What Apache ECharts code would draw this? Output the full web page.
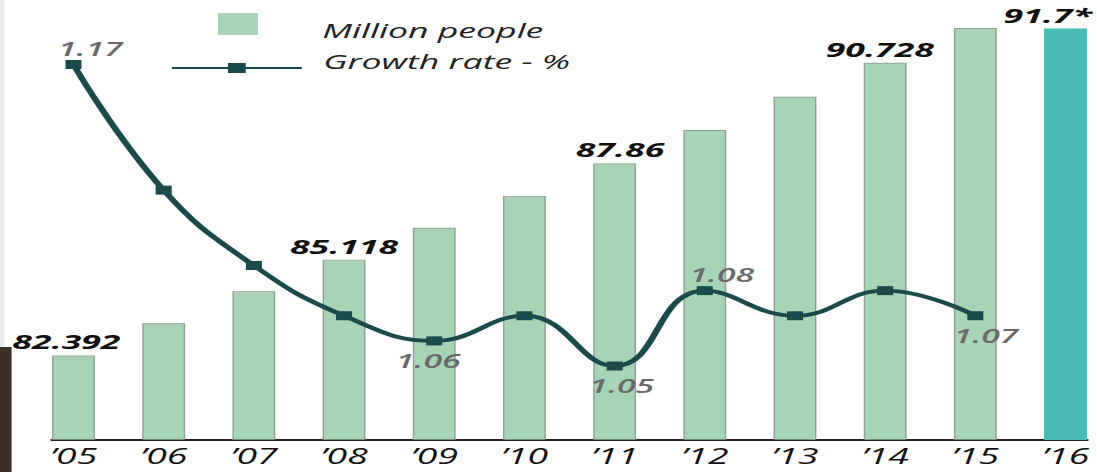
<!DOCTYPE html>
<html>
<head>
<meta charset="utf-8">
<script src="https://cdn.jsdelivr.net/npm/echarts@6/dist/echarts.min.js"></script>
<style>
  html, body { margin: 0; padding: 0; background: #fff; overflow: hidden; }
  #wrap { width: 1097px; height: 472px; overflow: hidden; position: relative; }
  /* the chart is laid out narrow and widened horizontally */
  #chart { width: 616px; height: 472px; transform: scaleX(1.78084); transform-origin: 0 0; }
</style>
</head>
<body>
<div id="wrap"><div id="chart"></div></div>
<script>
// Population (million people) and annual growth rate (%), 2005-2016
const years = ['\u201905', '\u201906', '\u201907', '\u201908', '\u201909', '\u201910',
               '\u201911', '\u201912', '\u201913', '\u201914', '\u201915', '\u201916'];
const population = [82.392, 83.311, 84.219, 85.118, 86.025, 86.933,
                    87.86, 88.809, 89.76, 90.728, 91.713, 91.7];
const growthRate = [1.17, 1.12, 1.09, 1.07, 1.06, 1.07,
                    1.05, 1.08, 1.07, 1.08, 1.07];
const populationLabelled = ['\u201905', '\u201908', '\u201911', '\u201914', '\u201916'];
const growthLabelled = ['\u201905', '\u201909', '\u201911', '\u201912', '\u201915'];
const estimatedYears = ['\u201916'];

// label placement for the value labels
const growthLabelSide = { '\u201905': 'top', '\u201909': 'bottom', '\u201911': 'bottom', '\u201912': 'top', '\u201915': 'bottom' };
const growthLabelShift = { '\u201905': 9.5, '\u201909': -3.4, '\u201911': 4, '\u201912': 9.5, '\u201915': 6 };
const popLabelShift = { '\u201905': -4, '\u201911': 3, '\u201914': -3, '\u201916': -10 };

const FONT = '"Open Sans", "Noto Sans", sans-serif';
const LINE_COLOR = '#1b4a4b';
const BAR_COLOR = '#a8d4b6';
const BAR_EST_COLOR = '#46bcb4';

const barData = population.map((v, i) => ({
  value: [i, v],
  label: {
    show: populationLabelled.includes(years[i]),
    offset: [popLabelShift[years[i]] || 0, 0]
  },
  itemStyle: estimatedYears.includes(years[i]) ? { color: BAR_EST_COLOR, borderColor: BAR_EST_COLOR } : undefined
}));

const lineData = growthRate.map((v, i) => {
  const side = growthLabelSide[years[i]];
  return {
    value: [i, v],
    label: {
      show: growthLabelled.includes(years[i]),
      position: side || 'top',
      distance: side === 'bottom' ? 6 : 2,
      offset: [growthLabelShift[years[i]] || 0, 0]
    }
  };
});

const legendText = { fontFamily: FONT, fontStyle: 'italic', fontSize: 20, color: '#222' };

const chart = echarts.init(document.getElementById('chart'), null, { renderer: 'svg' });

chart.setOption({
  animation: false,
  backgroundColor: '#fff',
  graphic: [
    { type: 'rect', left: 0, top: 0, shape: { width: 2.6, height: 347 }, style: { fill: '#ececec' }, silent: true },
    { type: 'rect', left: 0, top: 347, shape: { width: 6.5, height: 125 }, style: { fill: '#3a3027' }, silent: true }
  ],
  legend: [
    {
      data: ['Million people'],
      left: 117.4, top: 8,
      orient: 'vertical',
      icon: 'rect',
      itemWidth: 22.5, itemHeight: 22,
      itemStyle: { borderWidth: 0 },
      formatter: '{t|{name}}',
      textStyle: Object.assign({}, legendText, {
        rich: { t: Object.assign({}, legendText, { padding: [12, 0, 0, 31] }) }
      })
    },
    {
      data: ['Growth rate - %'],
      left: 90.5, top: 46,
      orient: 'vertical',
      itemWidth: 73, itemHeight: 12.5,
      formatter: '{t|{name}}',
      textStyle: Object.assign({}, legendText, {
        rich: { t: Object.assign({}, legendText, { padding: [0, 0, 14, 7] }) }
      })
    }
  ],
  grid: { left: 29.2, right: 5.6, top: 18, bottom: 32.5, containLabel: false },
  xAxis: {
    type: 'value',
    min: -0.2384, max: 11.2384,
    splitLine: { show: false },
    axisTick: { show: false },
    axisLine: { show: true, onZero: false, lineStyle: { color: '#222', width: 2 } },
    axisLabel: {
      customValues: years.map((_, i) => i),
      formatter: v => years[Math.round(v)] || '',
      fontFamily: FONT, fontStyle: 'italic', fontSize: 21, color: '#111',
      margin: 6
    }
  },
  yAxis: [
    { type: 'value', min: 80, max: 92, show: false, splitLine: { show: false } },
    { type: 'value', min: 1.02075, max: 1.18851, show: false, splitLine: { show: false } }
  ],
  series: [
    {
      name: 'Million people',
      type: 'bar',
      barWidth: 24.1,
      data: barData,
      itemStyle: { color: BAR_COLOR, borderColor: 'rgba(120,135,125,0.75)', borderWidth: 0.8 },
      label: {
        position: 'top',
        distance: 4,
        fontFamily: FONT, fontStyle: 'italic', fontWeight: 'bold', fontSize: 20, color: '#111',
        formatter: p => String(p.value[1]) + (estimatedYears.includes(years[p.value[0]]) ? '*' : '')
      },
      z: 2
    },
    {
      name: 'Growth rate - %',
      type: 'line',
      yAxisIndex: 1,
      data: lineData,
      smooth: 0.45,
      symbol: 'rect',
      symbolSize: 9,
      lineStyle: { color: LINE_COLOR, width: 3.8 },
      itemStyle: { color: LINE_COLOR },
      label: {
        fontFamily: FONT, fontStyle: 'italic', fontWeight: 600, fontSize: 19, color: '#6a6a6a',
        formatter: p => p.value[1].toFixed(2)
      },
      z: 3
    }
  ]
});
</script>
</body>
</html>
